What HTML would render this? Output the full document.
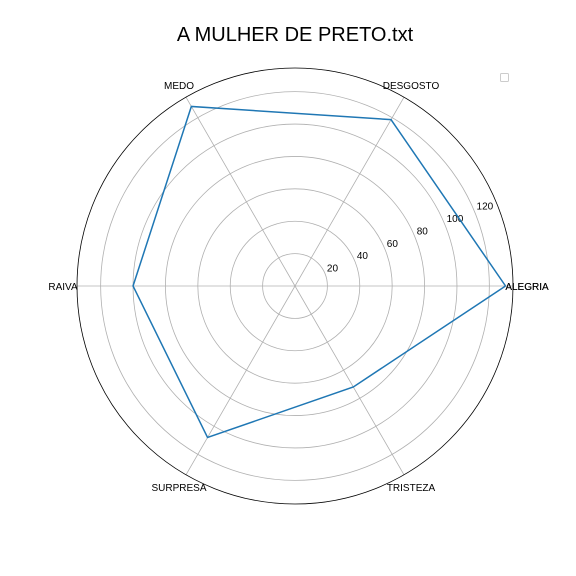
<!DOCTYPE html>
<html><head><meta charset="utf-8"><style>
html,body{margin:0;padding:0;background:#fff;}
svg{display:block;font-family:"Liberation Sans","DejaVu Sans",sans-serif;}
</style></head><body>
<svg id="chart" width="576" height="576" viewBox="0 0 576 576"></svg>
<script>
const categories = ["ALEGRIA","DESGOSTO","MEDO","RAIVA","SURPRESA","TRISTEZA"];
const values = [130,118.6,128,100,108,72];
const rTicks = [20,40,60,80,100,120];
const rMax = 134.6;
const cx = 295, cy = 286, R = 218;
const NS = "http://www.w3.org/2000/svg";
const svg = document.getElementById("chart");
function mk(tag, attrs, parent){const e=document.createElementNS(NS,tag);for(const k in attrs)e.setAttribute(k,attrs[k]);(parent||svg).appendChild(e);return e;}
function rScale(v){return v/rMax*R;}
function ang(i){return i*2*Math.PI/categories.length;}
function pt(i,v){const a=ang(i),r=rScale(v);return [cx+r*Math.cos(a),cy-r*Math.sin(a)];}

const title = mk("text",{x:295,y:41,"text-anchor":"middle","font-size":20,fill:"#000"});
title.textContent="A MULHER DE PRETO.txt";



const grid = mk("g",{});


rTicks.forEach(t=>{
  const c=mk("circle",{cx:cx,cy:cy,r:rScale(t),fill:"none",stroke:"#b0b0b0","stroke-width":0.8},grid);
  
  
});
categories.forEach((c,i)=>{
  const p=pt(i,rMax);
  const l=mk("line",{x1:cx,y1:cy,x2:p[0],y2:p[1],stroke:"#b0b0b0","stroke-width":0.8},grid);
  
  
});
const outer=mk("circle",{cx:cx,cy:cy,r:R,fill:"none",stroke:"#000","stroke-width":0.8});



rTicks.forEach(t=>{
  const a=22.5*Math.PI/180,r=rScale(t);
  const tx=mk("text",{x:cx+r*Math.cos(a)+2,y:cy-r*Math.sin(a)-2,"text-anchor":"start","font-size":10,fill:"#000"});
  tx.textContent=t;
  
  
});

const labs=categories.concat([categories[0]]);
labs.forEach((c,i)=>{
  const a=ang(i%categories.length),r=R+14;
  const x=cx+r*Math.cos(a),y=cy-r*Math.sin(a);
  const tx=mk("text",{x:x,y:y+4,"text-anchor":"middle","font-size":10,fill:"#000"});
  tx.textContent=c;
  
  
});

const pts=values.map((v,i)=>pt(i,v));
pts.push(pts[0]);
const line=mk("polyline",{points:pts.map(p=>p.join(",")).join(" "),fill:"none",stroke:"#1f77b4","stroke-width":1.5});



const lg=mk("rect",{x:500.5,y:73.5,width:8,height:8,fill:"#fff",stroke:"#ccc","stroke-width":1,rx:1});


</script>
</body></html>
